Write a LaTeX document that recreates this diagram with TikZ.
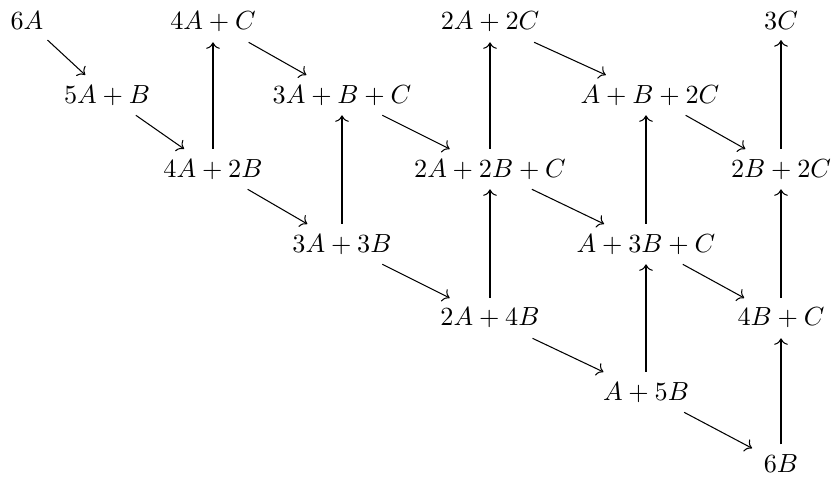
\documentclass[tikz,border=0pt]{standalone}
\usetikzlibrary{arrows.meta}
\begin{document}
\begin{tikzpicture}[x=0.3817pt,y=-0.3817pt,
  cell/.style={inner xsep=1ex,inner ysep=0.85ex,anchor=base},
  arr/.style={-{Computer Modern Rightarrow},line width=0.4pt}]
\useasboundingbox (0,0) rectangle (833,478);
% row 1
\node[cell] (a6) at (27,30) {$6A$};
\node[cell] (a4c) at (213,30) {$4A+C$};
\node[cell] (a2c2) at (490,30) {$2A+2C$};
\node[cell] (c3) at (781,30) {$3C$};
% row 2
\node[cell] (a5b) at (107,103) {$5A+B$};
\node[cell] (a3bc) at (342,103) {$3A+B+C$};
\node[cell] (abc2) at (650,103) {$A+B+2C$};
% row 3
\node[cell] (a4b2) at (213,177) {$4A+2B$};
\node[cell] (a2b2c) at (490,177) {$2A+2B+C$};
\node[cell] (b2c2) at (781,177) {$2B+2C$};
% row 4
\node[cell] (a3b3) at (342,252) {$3A+3B$};
\node[cell] (ab3c) at (646,252) {$A+3B+C$};
% row 5
\node[cell] (a2b4) at (490,326) {$2A+4B$};
\node[cell] (b4c) at (781,326) {$4B+C$};
% row 6
\node[cell] (ab5) at (646,400) {$A+5B$};
% row 7
\node[cell] (b6) at (781,472.5) {$6B$};
% arrows
\draw[arr] (a6) -- (a5b);
\draw[arr] (a5b) -- (a4b2);
\draw[arr] (a4b2) -- (a4c);
\draw[arr] (a4c) -- (a3bc);
\draw[arr] (a4b2) -- (a3b3);
\draw[arr] (a3b3) -- (a3bc);
\draw[arr] (a3bc) -- (a2b2c);
\draw[arr] (a3b3) -- (a2b4);
\draw[arr] (a2b4) -- (a2b2c);
\draw[arr] (a2b2c) -- (a2c2);
\draw[arr] (a2c2) -- (abc2);
\draw[arr] (a2b2c) -- (ab3c);
\draw[arr] (a2b4) -- (ab5);
\draw[arr] (ab5) -- (ab3c);
\draw[arr] (ab3c.north) -- (ab3c.north |- abc2.south);
\draw[arr] (abc2) -- (b2c2);
\draw[arr] (ab3c) -- (b4c);
\draw[arr] (ab5) -- (b6);
\draw[arr] (b6) -- (b4c);
\draw[arr] (b4c) -- (b2c2);
\draw[arr] (b2c2) -- (c3);
\end{tikzpicture}
\end{document}
